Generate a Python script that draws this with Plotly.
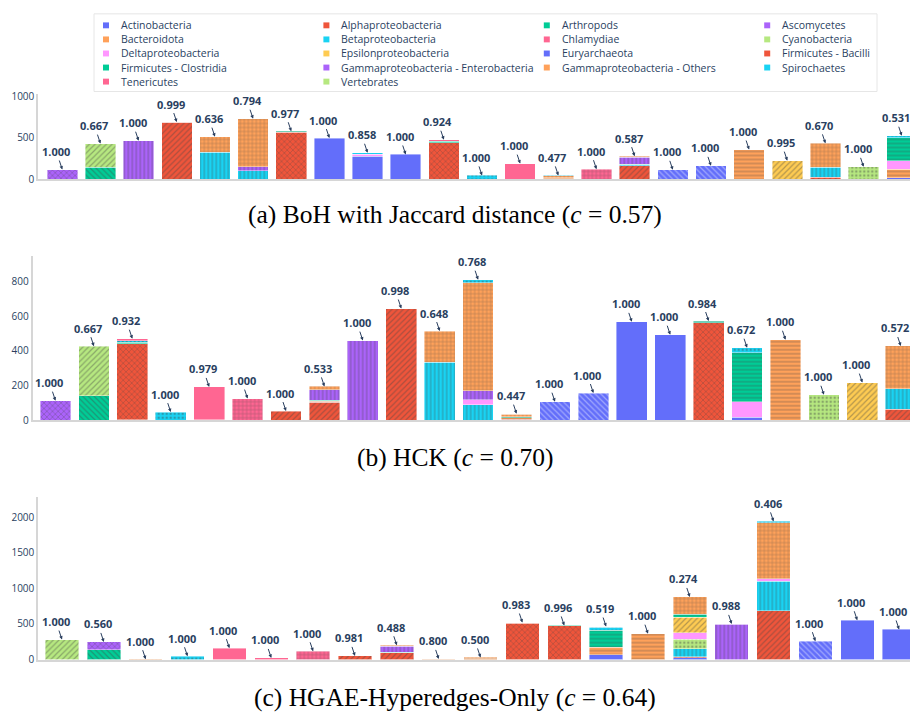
import plotly.graph_objects as go

# ---- categories, colours and fill patterns ---------------------------------
CATEGORIES = [
    "Actinobacteria", "Alphaproteobacteria", "Arthropods", "Ascomycetes",
    "Bacteroidota", "Betaproteobacteria", "Chlamydiae", "Cyanobacteria",
    "Deltaproteobacteria", "Epsilonproteobacteria", "Euryarchaeota",
    "Firmicutes - Bacilli", "Firmicutes - Clostridia",
    "Gammaproteobacteria - Enterobacteria", "Gammaproteobacteria - Others",
    "Spirochaetes", "Tenericutes", "Vertebrates",
]
CODES = [
    "ACT", "ALP", "ART", "ASC", "BAC", "BET", "CHL", "CYA", "DEL", "EPS",
    "EUR", "FBA", "FCL", "GEN", "GOT", "SPI", "TEN", "VER",
]
PALETTE = ["#636EFA", "#EF553B", "#00CC96", "#AB63FA", "#FFA15A",
           "#19D3F3", "#FF6692", "#B6E880", "#FF97FF", "#FECB52"]
PATTERNS = ["", "/", "\\", "x", "-", "|", "+", "."]

# ---- cluster compositions (members per category) and purity labels ---------
BOH_BARS = [
    {"ASC": 115},
    {"ART": 142, "VER": 285},
    {"GEN": 462},
    {"ALP": 686, "FCL": 1},
    {"BET": 325, "GOT": 186},
    {"BET": 100, "GEN": 50, "GOT": 577},
    {"FBA": 563, "FCL": 13},
    {"ACT": 494},
    {"ACT": 272, "DEL": 24, "SPI": 21},
    {"ACT": 296},
    {"FBA": 438, "FCL": 20, "TEN": 16},
    {"SPI": 44},
    {"TEN": 186},
    {"ALP": 5, "BAC": 12, "GOT": 21, "SPI": 6},
    {"CHL": 119},
    {"ALP": 162, "BET": 10, "FCL": 8, "GEN": 82, "GOT": 14},
    {"EUR": 111},
    {"EUR": 159},
    {"BAC": 356},
    {"EPS": 221, "FCL": 1},
    {"ALP": 20, "BET": 122, "GOT": 288},
    {"CYA": 147},
    {"ACT": 16, "BAC": 103, "DEL": 100, "FCL": 277, "SPI": 26},
]
BOH_PURITY = ["1.000", "0.667", "1.000", "0.999", "0.636", "0.794", "0.977",
              "1.000", "0.858", "1.000", "0.924", "1.000", "1.000", "0.477",
              "1.000", "0.587", "1.000", "1.000", "1.000", "0.995", "0.670",
              "1.000", "0.531"]

HCK_BARS = [
    {"ASC": 113},
    {"ART": 142, "VER": 285},
    {"EUR": 4, "FBA": 438, "FCL": 8, "SPI": 8, "TEN": 12},
    {"SPI": 47},
    {"ART": 4, "TEN": 188},
    {"CHL": 125},
    {"ALP": 53},
    {"ALP": 104, "BAC": 6, "FCL": 5, "GEN": 60, "GOT": 20},
    {"GEN": 459},
    {"ALP": 643, "FCL": 1},
    {"BET": 333, "GOT": 181},
    {"BET": 89, "DEL": 28, "GEN": 53, "GOT": 622, "SPI": 18},
    {"ALP": 7, "BAC": 8, "FCL": 4, "GOT": 17, "SPI": 2},
    {"EUR": 107},
    {"EUR": 157},
    {"ACT": 567},
    {"ACT": 493},
    {"FBA": 563, "FCL": 9},
    {"ACT": 17, "DEL": 90, "FCL": 281, "SPI": 30},
    {"BAC": 464},
    {"CYA": 147},
    {"EPS": 217},
    {"ALP": 64, "BET": 119, "GOT": 245},
]
HCK_PURITY = ["1.000", "0.667", "0.932", "1.000", "0.979", "1.000", "1.000",
              "0.533", "1.000", "0.998", "0.648", "0.768", "0.447", "1.000",
              "1.000", "1.000", "1.000", "0.984", "0.672", "1.000", "1.000",
              "1.000", "0.572"]

HGAE_BARS = [
    {"VER": 281},
    {"ART": 139, "ASC": 109},
    {"GOT": 6},
    {"SPI": 47},
    {"TEN": 161},
    {"TEN": 23},
    {"CHL": 116},
    {"ALP": 51, "FCL": 1},
    {"ALP": 98, "FCL": 8, "GEN": 81, "GOT": 14},
    {"BAC": 8, "GOT": 2},
    {"BAC": 15, "GOT": 15},
    {"FBA": 511, "FCL": 9},
    {"FBA": 477, "FCL": 2},
    {"ACT": 69, "BAC": 102, "FCL": 241, "SPI": 44, "TEN": 8},
    {"BAC": 364},
    {"ACT": 23, "ALP": 18, "BET": 110, "CYA": 133, "DEL": 92, "EPS": 216,
     "FCL": 46, "GOT": 241},
    {"GEN": 495, "TEN": 6},
    {"ALP": 685, "BET": 414, "DEL": 32, "GOT": 788, "SPI": 20},
    {"EUR": 258},
    {"ACT": 552},
    {"ACT": 423},
]
HGAE_PURITY = ["1.000", "0.560", "1.000", "1.000", "1.000", "1.000", "1.000",
               "0.981", "0.488", "0.800", "0.500", "0.983", "0.996", "0.519",
               "1.000", "0.274", "0.988", "0.406", "1.000", "1.000", "1.000"]

CAPTIONS = [
    "(a) BoH with Jaccard distance (<i>c</i> = 0.57)",
    "(b) HCK (<i>c</i> = 0.70)",
    "(c) HGAE-Hyperedges-Only (<i>c</i> = 0.64)",
]

# ---- page geometry (pixels) ------------------------------------------------
W, H = 910, 720
TEXT = "#2a3f5f"
AXIS_LINE = "#d6d6d6"

# left edge, top, bottom of each plot area, x range, y range, tick step, caption y
PANELS = [
    dict(bars=BOH_BARS, purity=BOH_PURITY, left=38.3, top=90, bottom=177,
         xr=[-0.629, 22.216], yr=[0, 1031], dtick=500, cap_y=213),
    dict(bars=HCK_BARS, purity=HCK_PURITY, left=32.7, top=255, bottom=422.3,
         xr=[-0.593, 22.24], yr=[0, 948], dtick=200, cap_y=460),
    dict(bars=HGAE_BARS, purity=HGAE_PURITY, left=38.3, top=500, bottom=665.7,
         xr=[-0.566, 20.26], yr=[0, 2286], dtick=500, cap_y=704),
]


def px_x(v):
    return v / W


def px_y(v):
    return 1 - v / H


fig = go.Figure()
annotations = []
shapes = []
layout_axes = {}

for p, panel in enumerate(PANELS):
    sfx = "" if p == 0 else str(p + 1)
    xa, ya = "x" + sfx, "y" + sfx
    bars = panel["bars"]
    xs = list(range(len(bars)))

    for i, (cat, code) in enumerate(zip(CATEGORIES, CODES)):
        ys = [b.get(code) for b in bars]
        if not any(ys):
            continue
        fig.add_trace(go.Bar(
            x=xs, y=ys, name=cat, xaxis=xa, yaxis=ya, showlegend=False,
            marker=dict(
                color=PALETTE[i % len(PALETTE)],
                line=dict(color="rgba(255,255,255,0.7)", width=0.6),
                pattern=dict(shape=PATTERNS[i % len(PATTERNS)],
                             fillmode="overlay", size=4, solidity=0.3,
                             fgopacity=0.4),
            ),
        ))

    # purity callouts above each stacked bar
    for j, (b, lab) in enumerate(zip(bars, panel["purity"])):
        annotations.append(dict(
            x=j, y=sum(b.values()), xref=xa, yref=ya,
            text=f"<b>{lab}</b>", showarrow=True,
            arrowhead=2, arrowsize=0.7, arrowwidth=1, arrowcolor=TEXT,
            ax=-6, ay=-18, font=dict(size=11, color=TEXT),
        ))

    layout_axes["xaxis" + sfx] = dict(
        domain=[px_x(panel["left"]), 1], range=panel["xr"], anchor=ya,
        showticklabels=False, showgrid=False, zeroline=False, ticks="",
        showline=True, linecolor=AXIS_LINE, linewidth=2,
    )
    layout_axes["yaxis" + sfx] = dict(
        domain=[px_y(panel["bottom"]), px_y(panel["top"])],
        range=panel["yr"], anchor=xa, dtick=panel["dtick"],
        showgrid=False, zeroline=False, ticks="",
        showline=True, linecolor=AXIS_LINE, linewidth=2,
        tickfont=dict(size=10, color=TEXT),
    )

    annotations.append(dict(
        x=0.5, y=px_y(panel["cap_y"]), xref="paper", yref="paper",
        text=CAPTIONS[p], showarrow=False, xanchor="center", yanchor="middle",
        font=dict(family="Liberation Serif", size=25.5, color="black"),
    ))

# ---- legend: four columns of colour keys ------------------------------------
shapes.append(dict(
    type="rect", xref="paper", yref="paper",
    x0=px_x(94), x1=px_x(877), y0=px_y(88), y1=px_y(9),
    line=dict(color="#e6e6e6", width=1), fillcolor="white", layer="below",
))
for i, cat in enumerate(CATEGORIES):
    row, col = divmod(i, 4)
    tx = 119 + col * 220.4
    ty = 20.7 + row * 14.3
    shapes.append(dict(
        type="rect", xref="paper", yref="paper",
        x0=px_x(tx - 16), x1=px_x(tx - 10), y0=px_y(ty + 3), y1=px_y(ty - 3),
        line=dict(width=0), fillcolor=PALETTE[i % len(PALETTE)],
    ))
    annotations.append(dict(
        x=px_x(tx), y=px_y(ty), xref="paper", yref="paper", text=cat,
        showarrow=False, xanchor="left", yanchor="middle",
        font=dict(size=10.5, color=TEXT),
    ))

fig.update_layout(
    width=W, height=H, template="plotly_white",
    margin=dict(l=0, r=0, t=0, b=0),
    paper_bgcolor="white", plot_bgcolor="white",
    barmode="stack", bargap=0.2, showlegend=False,
    annotations=annotations, shapes=shapes,
    **layout_axes,
)

fig.write_html("out.html")
